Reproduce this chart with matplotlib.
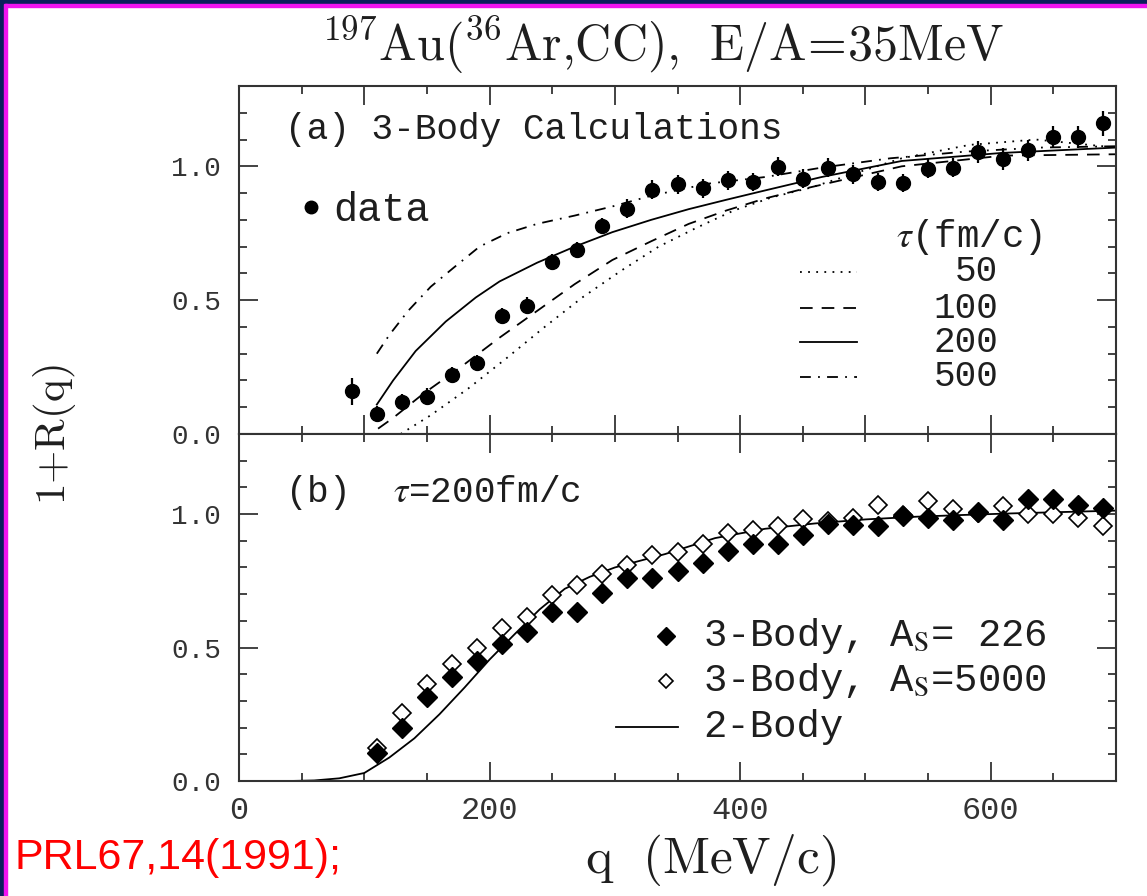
import matplotlib.pyplot as plt
from matplotlib.patches import Rectangle
from matplotlib.ticker import MultipleLocator

plt.rcParams['mathtext.fontset'] = 'stix'

# --- panel (a): measured correlation + 3-body calculations ---
q_data = [90, 110, 130, 150, 170, 190, 210, 230, 250, 270, 290, 310, 330, 350, 370,
          390, 410, 430, 450, 470, 490, 510, 530, 550, 570, 590, 610, 630, 650, 670, 690]
y_data = [0.16, 0.075, 0.118, 0.14, 0.22, 0.265, 0.44, 0.48, 0.642, 0.688, 0.778,
          0.842, 0.913, 0.933, 0.918, 0.948, 0.941, 0.998, 0.954, 0.995, 0.97, 0.941,
          0.938, 0.991, 0.995, 1.054, 1.028, 1.06, 1.11, 1.11, 1.16]
err_data = [0.05, 0.03, 0.03, 0.03, 0.03, 0.03, 0.03, 0.03, 0.03, 0.03, 0.03,
            0.035, 0.035, 0.035, 0.035, 0.035, 0.035, 0.035, 0.035, 0.035, 0.035, 0.035,
            0.035, 0.035, 0.035, 0.04, 0.04, 0.04, 0.04, 0.04, 0.045]

q_t50 = [129, 153, 183, 214, 244, 274, 305, 335, 365, 395, 426, 456, 529, 583, 636, 700]
y_t50 = [0.0, 0.07, 0.17, 0.285, 0.40, 0.51, 0.61, 0.70, 0.77, 0.835, 0.885, 0.92,
         1.03, 1.08, 1.10, 1.07]
q_t100 = [111, 123, 147, 177, 208, 238, 268, 298, 329, 359, 389, 420, 450, 529, 610, 700]
y_t100 = [0.02, 0.06, 0.15, 0.25, 0.36, 0.46, 0.56, 0.65, 0.72, 0.785, 0.835, 0.88,
          0.915, 1.0, 1.04, 1.045]
q_t200 = [110, 123, 141, 165, 189, 208, 238, 268, 298, 329, 359, 389, 420, 465, 529, 609, 700]
y_t200 = [0.11, 0.20, 0.31, 0.42, 0.51, 0.57, 0.64, 0.70, 0.754, 0.80, 0.84, 0.875,
          0.91, 0.96, 1.02, 1.05, 1.07]
q_t500 = [110, 120, 135, 153, 171, 192, 214, 238, 268, 298, 329, 374, 420, 465, 520, 580, 640, 700]
y_t500 = [0.30, 0.37, 0.46, 0.55, 0.62, 0.70, 0.75, 0.785, 0.816, 0.85, 0.89, 0.935,
          0.96, 0.995, 1.03, 1.055, 1.07, 1.075]

tau_labels = ['50', '100', '200', '500']

# --- panel (b): tau = 200 fm/c ---
q_b = [110, 130, 150, 170, 190, 210, 230, 250, 270, 290, 310, 330, 350, 370, 390,
       410, 430, 450, 470, 490, 510, 530, 550, 570, 590, 610, 630, 650, 670, 690]
y_as226 = [0.105, 0.2, 0.314, 0.39, 0.45, 0.513, 0.56, 0.635, 0.635, 0.704, 0.761,
           0.76, 0.786, 0.815, 0.862, 0.887, 0.887, 0.92, 0.962, 0.958, 0.956, 0.991,
           0.987, 0.979, 1.006, 0.979, 1.057, 1.057, 1.034, 1.023]
y_as5000 = [0.125, 0.254, 0.362, 0.438, 0.50, 0.572, 0.614, 0.696, 0.736, 0.777,
            0.811, 0.845, 0.858, 0.888, 0.928, 0.94, 0.956, 0.981, 0.975, 0.984,
            1.034, 0.995, 1.05, 1.019, 1.005, 1.029, 1.0, 1.0, 0.984, 0.956]
q_2body = [40, 60, 80, 100, 120, 140, 160, 180, 200, 220, 240, 260, 280, 300, 340,
           380, 420, 460, 500, 540, 580, 620, 660, 700]
y_2body = [0.0, 0.002, 0.01, 0.03, 0.088, 0.16, 0.25, 0.35, 0.455, 0.55, 0.643, 0.72,
           0.765, 0.80, 0.85, 0.91, 0.945, 0.965, 0.98, 0.99, 0.997, 1.003, 1.008, 1.013]

MONO = 'Liberation Mono'
INK = '#1e1e1e'
styles = [(0, (1, 3.5)), (0, (7, 5)), '-', (0, (6, 4, 1, 4))]

fig = plt.figure(figsize=(11.47, 8.96), dpi=100)

# slide frame: dark blue strip + magenta line on top and left
navy = '#0b1f5c'
mag = '#f014f0'
fig.patches.append(Rectangle((0, 1 - 4 / 896), 1, 4 / 896, transform=fig.transFigure, color=navy))
fig.patches.append(Rectangle((0, 1 - 7 / 896), 1, 3 / 896, transform=fig.transFigure, color=mag))
fig.patches.append(Rectangle((0, 0), 4 / 1147, 1, transform=fig.transFigure, color=navy))
fig.patches.append(Rectangle((4 / 1147, 0), 3 / 1147, 1 - 4 / 896, transform=fig.transFigure, color=mag))

L = 239 / 1147
W = 877 / 1147
ax1 = fig.add_axes([L, 1 - 434 / 896, W, 348 / 896])
ax2 = fig.add_axes([L, 1 - 781 / 896, W, 347 / 896])


def style_axes(ax, xmajor, show_x):
    ax.set_xlim(0, 700)
    ax.set_ylim(0, 1.3)
    ax.xaxis.set_major_locator(MultipleLocator(xmajor))
    ax.xaxis.set_minor_locator(MultipleLocator(50))
    ax.yaxis.set_major_locator(MultipleLocator(0.5))
    ax.yaxis.set_minor_locator(MultipleLocator(0.1))
    ax.tick_params(which='both', direction='in', top=True, right=True, width=1.2, color='#222222')
    ax.tick_params(which='major', length=14)
    ax.tick_params(which='minor', length=6)
    ax.tick_params(axis='y', labelsize=20, pad=13, labelcolor='#333333')
    ax.tick_params(axis='x', labelsize=23, pad=11, labelcolor='#333333')
    ax.set_yticks([0, 0.5, 1.0])
    ax.set_yticklabels(['0.0', '0.5', '1.0'], fontfamily=MONO)
    if not show_x:
        ax.tick_params(axis='x', labelbottom=False)
    for s in ax.spines.values():
        s.set_linewidth(1.5)
        s.set_color('#333333')


style_axes(ax1, 100, False)
style_axes(ax2, 200, True)
ax2.set_xticks([0, 200, 400, 600])
ax2.set_xticklabels(['0', '200', '400', '600'], fontfamily=MONO)

# panel (a)
curves = [(q_t50, y_t50), (q_t100, y_t100), (q_t200, y_t200), (q_t500, y_t500)]
for (qq, yy), ls in zip(curves, styles):
    ax1.plot(qq, yy, color='black', lw=1.3, linestyle=ls)
ax1.errorbar(q_data, y_data, yerr=err_data, fmt='o', color='black', ms=10, elinewidth=1.6,
             capsize=0, zorder=5)

ax1.text(0.052, 0.874, '(a) 3-Body Calculations', transform=ax1.transAxes, fontsize=26,
         family=MONO, va='center', ha='left', color=INK)
ax1.plot([0.082], [0.652], 'o', color='black', ms=9, transform=ax1.transAxes)
ax1.text(0.108, 0.644, 'data', transform=ax1.transAxes, fontsize=29, family=MONO,
         va='center', ha='left', color=INK)
ax1.text(0.832, 0.566, r'$\tau$(fm/c)', transform=ax1.transAxes, fontsize=27, family=MONO,
         va='center', ha='center', color=INK)
rows = [0.466, 0.362, 0.264, 0.164]
for lab, ls, yr in zip(tau_labels, styles, rows):
    ax1.plot([0.640, 0.705], [yr, yr], color='black', lw=1.3, linestyle=ls, transform=ax1.transAxes)
    ax1.text(0.866, yr, lab, transform=ax1.transAxes, fontsize=26, family=MONO,
             va='center', ha='right', color=INK)

# panel (b)
ax2.plot(q_2body, y_2body, color='black', lw=1.3)
ax2.plot(q_b, y_as226, 'D', color='black', ms=10, zorder=5)
ax2.plot(q_b, y_as5000, 'D', mfc='white', mec='black', mew=1.2, ms=9, zorder=4)

ax2.text(0.052, 0.83, r'(b)  $\tau$=200fm/c', transform=ax2.transAxes, fontsize=26,
         family=MONO, va='center', ha='left', color=INK)
ax2.plot([0.487], [0.418], 'D', color='black', ms=9, transform=ax2.transAxes)
ax2.plot([0.487], [0.288], 'D', mfc='white', mec='black', mew=1.2, ms=7, transform=ax2.transAxes)
ax2.plot([0.430, 0.500], [0.156, 0.156], color='black', lw=1.3, transform=ax2.transAxes)
ax2.text(0.529, 0.418, r'3-Body, A$_{\rm S}$= 226', transform=ax2.transAxes, fontsize=28,
         family=MONO, va='center', ha='left', color=INK)
ax2.text(0.529, 0.288, r'3-Body, A$_{\rm S}$=5000', transform=ax2.transAxes, fontsize=28,
         family=MONO, va='center', ha='left', color=INK)
ax2.text(0.529, 0.156, '2-Body', transform=ax2.transAxes, fontsize=28, family=MONO,
         va='center', ha='left', color=INK)

# titles and axis labels (Computer Modern look via mathtext)
fig.text(0.578, 1 - 45 / 896,
         r'$^{197}\mathrm{Au}(^{36}\mathrm{Ar{,}CC}){,}\ \ \mathrm{E/A}\!=\!\mathrm{35MeV}$',
         fontsize=36, math_fontfamily='cm', ha='center', va='center', color=INK)
fig.text(55 / 1147, 1 - 435 / 896, r'$\mathrm{1{+}R(q)}$', rotation=90, fontsize=31,
         math_fontfamily='cm', ha='center', va='center', color=INK)
fig.text(711 / 1147, 1 - 860 / 896, r'$\mathrm{q\ \ (MeV/c)}$', fontsize=37,
         math_fontfamily='cm', ha='center', va='center', color=INK)
fig.text(15 / 1147, 1 - 858 / 896, 'PRL67,14(1991);', fontsize=31, color='red',
         family=['Liberation Sans Narrow', 'Liberation Sans'], ha='left', va='center')

fig.savefig('out.png', dpi=100)
